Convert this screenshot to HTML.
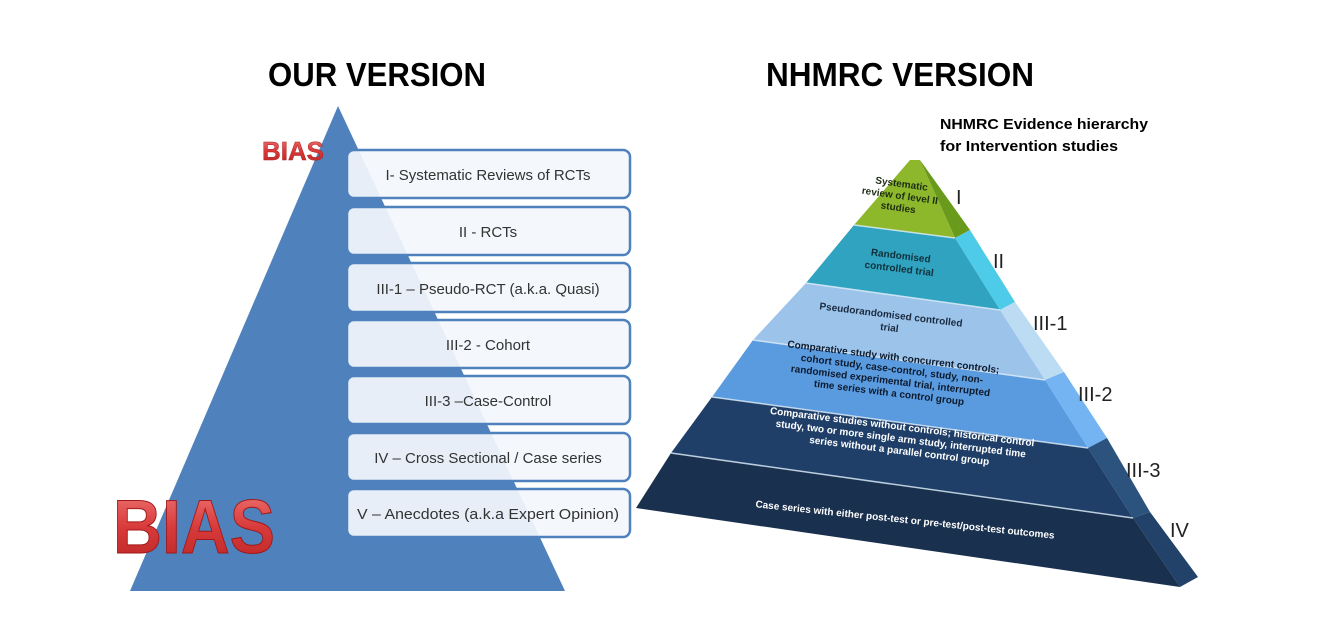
<!DOCTYPE html>
<html><head><meta charset="utf-8"><style>
html,body{margin:0;padding:0;background:#fff;}
svg{display:block;font-family:"Liberation Sans",sans-serif;}
</style></head><body>
<svg width="1334" height="630" viewBox="0 0 1334 630" xmlns="http://www.w3.org/2000/svg">
<defs>
<linearGradient id="red" x1="0" y1="0" x2="0" y2="1">
<stop offset="0" stop-color="#f07a78"/><stop offset="0.5" stop-color="#d83a3a"/><stop offset="1" stop-color="#b82424"/>
</linearGradient>
</defs>
<text x="268" y="86" font-size="33" font-weight="bold" textLength="218" lengthAdjust="spacingAndGlyphs">OUR VERSION</text>
<text x="766" y="86" font-size="33" font-weight="bold" textLength="268" lengthAdjust="spacingAndGlyphs">NHMRC VERSION</text>
<text x="940" y="129" font-size="15" font-weight="bold" textLength="208" lengthAdjust="spacingAndGlyphs">NHMRC Evidence hierarchy</text>
<text x="940" y="151" font-size="15" font-weight="bold" textLength="178" lengthAdjust="spacingAndGlyphs">for Intervention studies</text>

<!-- left triangle -->
<polygon points="338,106 130,591 565,591" fill="#4f81bd"/>
<g font-size="15" fill="#333" text-anchor="middle">
<g fill="#f3f6fb" fill-opacity="0.93" stroke="#4f81bd" stroke-width="2.5">
<rect x="347" y="150" width="283" height="48" rx="7"/>
<rect x="347" y="207" width="283" height="48" rx="7"/>
<rect x="347" y="263" width="283" height="49" rx="7"/>
<rect x="347" y="320" width="283" height="48" rx="7"/>
<rect x="347" y="376" width="283" height="48" rx="7"/>
<rect x="347" y="433" width="283" height="48" rx="7"/>
<rect x="347" y="489" width="283" height="48" rx="7"/>
</g>
<text x="488" y="180">I- Systematic Reviews of RCTs</text>
<text x="488" y="237">II - RCTs</text>
<text x="488" y="294">III-1 – Pseudo-RCT (a.k.a. Quasi)</text>
<text x="488" y="350">III-2 - Cohort</text>
<text x="488" y="406">III-3 –Case-Control</text>
<text x="488" y="463">IV – Cross Sectional / Case series</text>
<text x="488" y="519" textLength="262" lengthAdjust="spacingAndGlyphs">V – Anecdotes (a.k.a Expert Opinion)</text>
</g>
<text x="262" y="160" font-size="26" font-weight="bold" fill="url(#red)" stroke="#b02020" stroke-width="0.5" textLength="62" lengthAdjust="spacingAndGlyphs">BIAS</text>
<text x="113" y="553" font-size="76" font-weight="bold" fill="url(#red)" stroke="#a01818" stroke-width="1" textLength="162" lengthAdjust="spacingAndGlyphs">BIAS</text>

<!-- right pyramid: side faces -->
<polygon points="920,160 970,230 955,238" fill="#6a9a1c"/>
<polygon points="955,238 970,230 1015,302 1000,310" fill="#4fcbea"/>
<polygon points="1000,310 1015,302 1064,372 1045,380" fill="#bcdcf4"/>
<polygon points="1045,380 1064,372 1107,438 1088,448" fill="#74b4f2"/>
<polygon points="1088,448 1107,438 1150,512 1133,518" fill="#2c527e"/>
<polygon points="1133,518 1150,512 1198,577 1180,587" fill="#22426a"/>
<!-- front faces -->
<polygon points="910,160 920,160 955,238 854,225" fill="#8db82c"/>
<polygon points="854,225 955,238 1000,310 806,283" fill="#2fa3bf"/>
<polygon points="806,283 1000,310 1045,380 753,340" fill="#9cc3ea"/>
<polygon points="753,340 1045,380 1088,448 712,397" fill="#5a9be0"/>
<polygon points="712,397 1088,448 1133,518 671,453" fill="#1f3f68"/>
<polygon points="671,453 1133,518 1180,587 636,508" fill="#19304f"/>
<g stroke="#dfeefa" stroke-width="1.5" fill="none" opacity="0.8">
<line x1="854" y1="225" x2="955" y2="238"/><line x1="806" y1="283" x2="1000" y2="310"/>
<line x1="753" y1="340" x2="1045" y2="380"/><line x1="712" y1="397" x2="1088" y2="448"/>
<line x1="671" y1="453" x2="1133" y2="518"/>
</g>
<g font-size="10" font-weight="bold" text-anchor="middle">
<g fill="#1e2d12" transform="rotate(8 900 195)">
<text x="900" y="187">Systematic</text><text x="900" y="199">review of level II</text><text x="900" y="211">studies</text></g>
<g fill="#10303c" transform="rotate(7 900 262)">
<text x="900" y="259">Randomised</text><text x="900" y="272">controlled trial</text></g>
<g fill="#1a2a40" transform="rotate(7 890 323)">
<text x="890" y="318">Pseudorandomised controlled</text><text x="890" y="331">trial</text></g>
<g fill="#0d1a2c" transform="rotate(7 890 385)">
<text x="890" y="360">Comparative study with concurrent controls;</text>
<text x="890" y="372">cohort study, case-control, study, non-</text>
<text x="890" y="384">randomised experimental trial, interrupted</text>
<text x="890" y="396">time series with a control group</text></g>
<g fill="#ffffff" transform="rotate(7 900 445)">
<text x="900" y="430">Comparative studies without controls; historical control</text>
<text x="900" y="442">study, two or more single arm study, interrupted time</text>
<text x="900" y="454">series without a parallel control group</text></g>
<g fill="#ffffff" transform="rotate(6 905 520)">
<text x="905" y="523">Case series with either post-test or pre-test/post-test outcomes</text></g>
</g>
<g font-size="20" fill="#222">
<text x="956" y="204">I</text>
<text x="993" y="268">II</text>
<text x="1033" y="330">III-1</text>
<text x="1078" y="401">III-2</text>
<text x="1126" y="477">III-3</text>
<text x="1170" y="537">IV</text>
</g>
</svg>
</body></html>
